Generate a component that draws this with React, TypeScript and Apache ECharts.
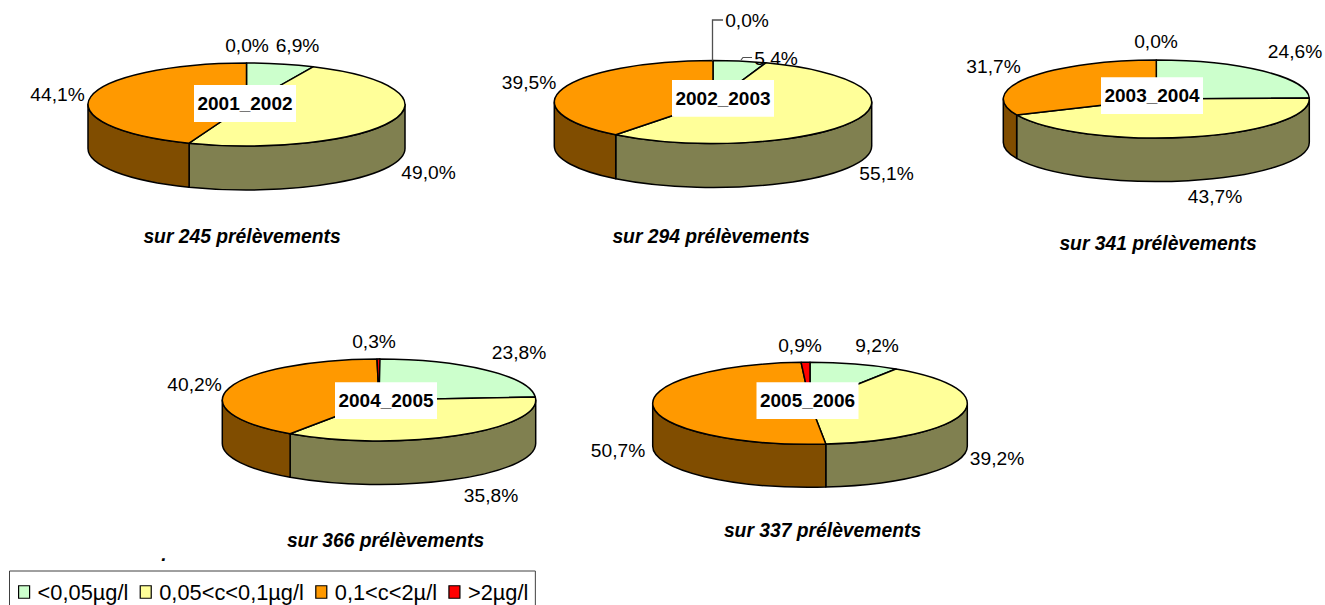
import React, { useEffect, useRef } from "react";
import * as echarts from "echarts";

// Campaign years, one 3D pie per year
const campaigns = ["2001_2002", "2002_2003", "2003_2004", "2004_2005", "2005_2006"];
const sampleCounts = [245, 294, 341, 366, 337];

// Share of samples per concentration class (%), in campaign order
const classNames = ["<0,05µg/l", "0,05<c<0,1µg/l", "0,1<c<2µ/l", ">2µg/l"];
const lowShare = [6.9, 5.4, 24.6, 23.8, 9.2];
const midShare = [49.0, 55.1, 43.7, 35.8, 39.2];
const highShare = [44.1, 39.5, 31.7, 40.2, 50.7];
const overShare = [0.0, 0.0, 0.0, 0.3, 0.9];
const shares = [lowShare, midShare, highShare, overShare];

const topColors = ["#CCFFCC", "#FFFF99", "#FF9900", "#FF0000"];
const sideColors = ["#668066", "#808050", "#804D00", "#800000"];

// Pie geometry: centre of the top face, radii, wall height
const pieFrames = [
  { cx: 246.5, cy: 104.5, rx: 158.5, ry: 41.5, depth: 44 },
  { cx: 713, cy: 102, rx: 158.7, ry: 41.5, depth: 44 },
  { cx: 1156.3, cy: 99, rx: 153, ry: 39, depth: 43.5 },
  { cx: 379, cy: 400, rx: 156.7, ry: 41, depth: 43.5 },
  { cx: 810, cy: 403.3, rx: 157.3, ry: 41, depth: 43 },
];

// Centre of each percentage label, by class then campaign
const labelSpots = [
  [[297.5, 45.5], [776, 58], [1295, 51.5], [519, 352.5], [877, 345.5]],
  [[428.5, 172], [886.5, 173], [1215, 196], [491, 495], [997, 458]],
  [[57.5, 94], [529, 82], [993.5, 66.5], [194.5, 384], [618, 450]],
  [[247, 45.5], [747, 20], [1156, 41.5], [374, 341.5], [800, 345.5]],
];

const captionSpots = [[242, 236], [711, 236.5], [1158, 243.5], [385.5, 540], [822.5, 530.5]];
const yearBoxes = [[245, 103.5], [723, 98.3], [1152, 95.7], [386, 400.7], [807.5, 400.7]];

const FONT = '"Liberation Sans"';
const LABEL_SIZE = 19.2;

const rim = (f: any, deg: number, drop = 0) => {
  const a = (deg * Math.PI) / 180;
  return [f.cx + f.rx * Math.sin(a), f.cy - f.ry * Math.cos(a) + drop];
};

const arcTo = (f: any, from: number, to: number, drop = 0) => {
  const [x, y] = rim(f, to, drop);
  const large = Math.abs(to - from) > 180 ? 1 : 0;
  return `A ${f.rx} ${f.ry} 0 ${large} ${to > from ? 1 : 0} ${x} ${y}`;
};

// Top face of a slice: wedge from the centre along the upper ellipse
const wedgePath = (f: any, start: number, end: number) => {
  const [x0, y0] = rim(f, start);
  return `M ${f.cx} ${f.cy} L ${x0} ${y0} ${arcTo(f, start, end)} Z`;
};

// Outer wall of a slice, limited to the half of the ellipse facing the viewer
const wallPath = (f: any, start: number, end: number) => {
  const s = Math.max(start, 90);
  const e = Math.min(end, 270);
  if (e <= s) return null;
  const [x0, y0] = rim(f, s);
  const [x1, y1] = rim(f, e, f.depth);
  return `M ${x0} ${y0} ${arcTo(f, s, e)} L ${x1} ${y1} ${arcTo(f, e, s, f.depth)} Z`;
};

const sliceRange = (pie: number, cls: number) => {
  let before = 0;
  for (let i = 0; i < cls; i++) before += shares[i][pie];
  return [before * 3.6, (before + shares[cls][pie]) * 3.6];
};

const textStyle = (text: string, x: number, y: number, font: string) => ({
  legacy: false,
  text,
  x,
  y,
  font,
  fill: "#000",
  align: "center",
  verticalAlign: "middle",
});

const stroke = { stroke: "#000", lineWidth: 1.5, lineJoin: "round" };

const classSeries = (cls: number) => ({
  type: "custom",
  name: classNames[cls],
  coordinateSystem: "none",
  data: shares[cls],
  itemStyle: { color: topColors[cls] },
  silent: true,
  renderItem: (params: any, api: any) => {
    const pie = params.dataIndex;
    const f = pieFrames[pie];
    const value = api.value(0) as number;
    const [start, end] = sliceRange(pie, cls);
    const children: any[] = [];
    if (value > 0) {
      const wall = wallPath(f, start, end);
      if (wall) {
        children.push({
          type: "path",
          shape: { pathData: wall },
          style: { fill: sideColors[cls], ...stroke },
        });
      }
      children.push({
        type: "path",
        shape: { pathData: wedgePath(f, start, end) },
        style: { fill: topColors[cls], ...stroke },
      });
    }
    const [lx, ly] = labelSpots[cls][pie];
    children.push({
      type: "text",
      style: textStyle(`${value.toFixed(1).replace(".", ",")}%`, lx, ly, `${LABEL_SIZE}px ${FONT}`),
    });
    return { type: "group", children };
  },
});

const overlayGraphics = () => {
  const items: any[] = [];
  campaigns.forEach((name, i) => {
    const [bx, by] = yearBoxes[i];
    items.push({
      type: "rect",
      z: 10,
      shape: { x: bx - 51, y: by - 18.4, width: 102, height: 36.8 },
      style: { fill: "#fff" },
    });
    items.push({
      type: "text",
      z: 11,
      style: textStyle(name, bx, by, `bold 19px ${FONT}`),
    });
    const [tx, ty] = captionSpots[i];
    items.push({
      type: "text",
      z: 11,
      style: textStyle(`sur ${sampleCounts[i]} prélèvements`, tx, ty, `italic bold 19.3px ${FONT}`),
    });
  });
  // Leader of the 0,0% label on the second pie
  const f = pieFrames[1];
  items.push({
    type: "polyline",
    z: 5,
    shape: { points: [[f.cx - 0.5, f.cy - f.ry], [f.cx - 0.5, 20], [723, 20]] },
    style: { fill: "none", stroke: "#505050", lineWidth: 1.3 },
  });
  // Leader of the 5,4% label on the second pie
  items.push({
    type: "polyline",
    z: 5,
    shape: { points: [[741, 60], [743, 57.5], [752, 57.5]] },
    style: { fill: "none", stroke: "#505050", lineWidth: 1.2 },
  });
  items.push({
    type: "text",
    z: 11,
    style: textStyle(".", 164, 554, `italic bold 19px ${FONT}`),
  });
  return items;
};

export default function App() {
  const ref = useRef<HTMLDivElement>(null);
  useEffect(() => {
    if (!ref.current) return;
    const chart = echarts.init(ref.current, undefined, { renderer: "svg" });
    chart.setOption({
      animation: false,
      backgroundColor: "#fff",
      legend: {
        left: 9.5,
        top: 571,
        orient: "horizontal",
        icon: "rect",
        selectedMode: false,
        data: classNames,
        itemWidth: 11,
        itemHeight: 12.5,
        itemGap: 11.3,
        itemStyle: { borderColor: "#000", borderWidth: 1.2 },
        padding: [10, 7, 40, 8.5],
        borderColor: "#404040",
        borderWidth: 1,
        backgroundColor: "#fff",
        textStyle: { fontFamily: "Liberation Sans", fontSize: 21.8, color: "#000", padding: [0, 0, 0, 3] },
      },
      graphic: { elements: overlayGraphics() },
      series: classNames.map((_, cls) => classSeries(cls)),
    });
    return () => chart.dispose();
  }, []);
  return <div ref={ref} style={{ position: "fixed", left: 0, top: 0, width: 1325, height: 605 }} />;
}
